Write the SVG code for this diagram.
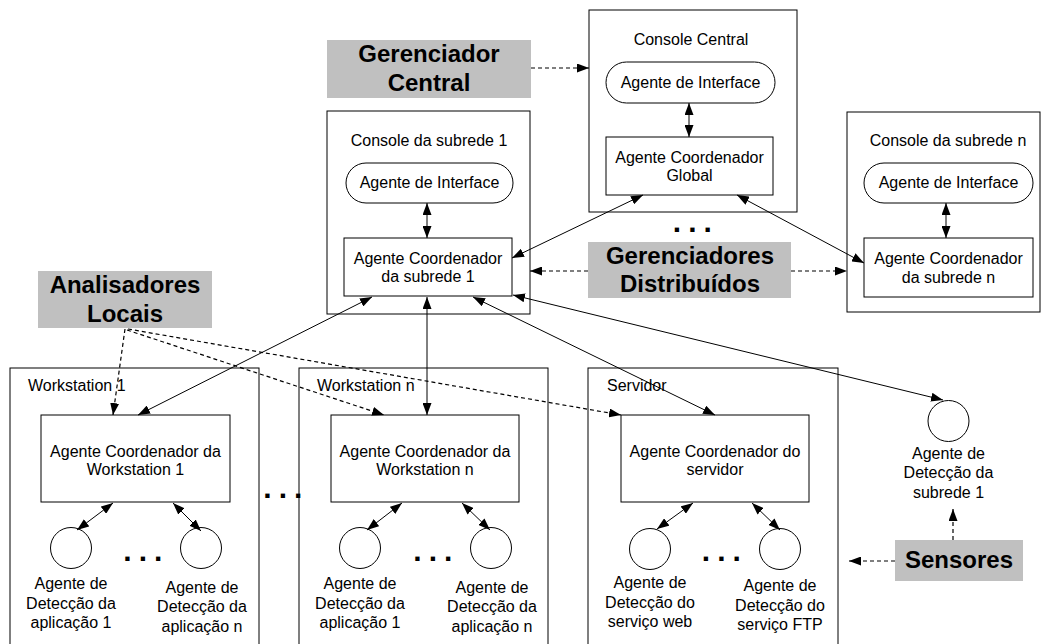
<svg xmlns="http://www.w3.org/2000/svg" width="1042" height="644" viewBox="0 0 1042 644">
<style>
.t{font-family:"Liberation Sans",Arial,sans-serif;font-size:16px;fill:#000}
.m{text-anchor:middle}
.b{font-family:"Liberation Sans",Arial,sans-serif;font-size:24px;font-weight:bold;fill:#000;text-anchor:middle}
.d{font-family:"Liberation Sans",Arial,sans-serif;font-size:30px;font-weight:bold;fill:#000;letter-spacing:7px}
.box{fill:#fff;stroke:#000;stroke-width:1}
.gray{fill:#c0c0c0;stroke:none}
.ln{stroke:#000;stroke-width:1;fill:none;marker-start:url(#ah);marker-end:url(#ah)}
.dl{stroke:#000;stroke-width:1.2;fill:none;stroke-dasharray:4 3;marker-end:url(#ah)}
</style>
<defs>
<marker id="ah" markerUnits="userSpaceOnUse" viewBox="0 0 12 9" refX="12" refY="4.5" markerWidth="12" markerHeight="9" orient="auto-start-reverse">
<path d="M0,0 L12,4.5 L0,9 z" fill="#000"/>
</marker>
</defs>
<rect width="1042" height="644" fill="#fff"/>

<g id="console-central">
<rect class="box" x="589" y="10" width="208" height="202"/>
<text class="t m" x="691" y="45">Console Central</text>
</g>
<g id="interface-central">
<rect class="box" x="606" y="62" width="169" height="41" rx="20.5"/>
<text class="t m" x="690.5" y="88">Agente de Interface</text>
</g>
<g id="coord-global">
<rect class="box" x="606" y="137" width="167" height="58"/>
<text class="t m" x="689.5" y="163">Agente Coordenador</text>
<text class="t m" x="689.5" y="181">Global</text>
</g>

<g id="console-subrede-1">
<rect class="box" x="327" y="111" width="203" height="203"/>
<text class="t m" x="429" y="146">Console da subrede 1</text>
</g>
<g id="interface-subrede-1">
<rect class="box" x="346" y="163" width="167" height="40" rx="20"/>
<text class="t m" x="429.5" y="188">Agente de Interface</text>
</g>
<g id="coord-subrede-1">
<rect class="box" x="344" y="238" width="168" height="58"/>
<text class="t m" x="428" y="264">Agente Coordenador</text>
<text class="t m" x="428" y="282">da subrede 1</text>
</g>

<g id="console-subrede-n">
<rect class="box" x="847" y="112" width="193" height="200"/>
<text class="t m" x="948" y="146">Console da subrede n</text>
</g>
<g id="interface-subrede-n">
<rect class="box" x="864" y="163" width="169" height="40" rx="20"/>
<text class="t m" x="948.5" y="188">Agente de Interface</text>
</g>
<g id="coord-subrede-n">
<rect class="box" x="864" y="238" width="169" height="59"/>
<text class="t m" x="948.5" y="264">Agente Coordenador</text>
<text class="t m" x="948.5" y="283">da subrede n</text>
</g>

<g id="gerenciador-central">
<rect class="gray" x="327" y="40" width="204" height="58"/>
<text class="b" x="429" y="62">Gerenciador</text>
<text class="b" x="429" y="91">Central</text>
</g>
<g id="gerenciadores-distribuidos">
<rect class="gray" x="588" y="242" width="203" height="56"/>
<text class="b" x="690" y="264">Gerenciadores</text>
<text class="b" x="690" y="292">Distribuídos</text>
</g>
<g id="analisadores-locais">
<rect class="gray" x="38" y="271" width="174" height="57"/>
<text class="b" x="125" y="293">Analisadores</text>
<text class="b" x="125" y="322">Locais</text>
</g>
<g id="sensores">
<rect class="gray" x="895" y="540" width="128" height="41"/>
<text class="b" x="959" y="568">Sensores</text>
</g>

<g id="workstation-1">
<rect class="box" x="10" y="368" width="249" height="300"/>
<text class="t" x="28" y="391">Workstation 1</text>
</g>
<g id="coord-ws1">
<rect class="box" x="41" y="415" width="189" height="87"/>
<text class="t m" x="135.5" y="457">Agente Coordenador da</text>
<text class="t m" x="135.5" y="475">Workstation 1</text>
</g>
<g id="det-ws1-1">
<circle class="box" cx="71" cy="548" r="20.5"/>
<text class="t m" x="71" y="589">Agente de</text>
<text class="t m" x="71" y="609">Detecção da</text>
<text class="t m" x="71" y="628">aplicação 1</text>
</g>
<g id="det-ws1-n">
<circle class="box" cx="201" cy="548" r="20.5"/>
<text class="t m" x="202" y="593">Agente de</text>
<text class="t m" x="202" y="612">Detecção da</text>
<text class="t m" x="202" y="632">aplicação n</text>
</g>

<g id="workstation-n">
<rect class="box" x="299" y="368" width="249" height="300"/>
<text class="t" x="317" y="391">Workstation n</text>
</g>
<g id="coord-wsn">
<rect class="box" x="331" y="415" width="188" height="87"/>
<text class="t m" x="425" y="457">Agente Coordenador da</text>
<text class="t m" x="425" y="475">Workstation n</text>
</g>
<g id="det-wsn-1">
<circle class="box" cx="360" cy="548" r="20.5"/>
<text class="t m" x="360" y="589">Agente de</text>
<text class="t m" x="360" y="609">Detecção da</text>
<text class="t m" x="360" y="628">aplicação 1</text>
</g>
<g id="det-wsn-n">
<circle class="box" cx="491" cy="548" r="20.5"/>
<text class="t m" x="492" y="593">Agente de</text>
<text class="t m" x="492" y="612">Detecção da</text>
<text class="t m" x="492" y="632">aplicação n</text>
</g>

<g id="servidor">
<rect class="box" x="588" y="368" width="250" height="300"/>
<text class="t" x="607" y="391">Servidor</text>
</g>
<g id="coord-servidor">
<rect class="box" x="621" y="415" width="188" height="87"/>
<text class="t m" x="715" y="457">Agente Coordenador do</text>
<text class="t m" x="715" y="475">servidor</text>
</g>
<g id="det-web">
<circle class="box" cx="650" cy="549" r="20.5"/>
<text class="t m" x="650" y="588">Agente de</text>
<text class="t m" x="650" y="608">Detecção do</text>
<text class="t m" x="650" y="627">serviço web</text>
</g>
<g id="det-ftp">
<circle class="box" cx="780" cy="549" r="20.5"/>
<text class="t m" x="780" y="591">Agente de</text>
<text class="t m" x="780" y="611">Detecção do</text>
<text class="t m" x="780" y="630">serviço FTP</text>
</g>

<g id="det-subrede-1">
<circle class="box" cx="948.5" cy="421" r="20.5"/>
<text class="t m" x="948.5" y="459">Agente de</text>
<text class="t m" x="948.5" y="478">Detecção da</text>
<text class="t m" x="948.5" y="498">subrede 1</text>
</g>

<g id="ellipses">
<text class="d" x="672.8" y="232">...</text>
<text class="d" x="263.3" y="498">...</text>
<text class="d" x="123.3" y="561">...</text>
<text class="d" x="413.3" y="561">...</text>
<text class="d" x="701.8" y="561">...</text>
</g>

<g id="connectors">
<line class="ln" x1="689" y1="103" x2="689" y2="137"/>
<line class="ln" x1="427" y1="203" x2="427" y2="238"/>
<line class="ln" x1="946" y1="203" x2="946" y2="238"/>
<line class="ln" x1="643" y1="195" x2="512" y2="258"/>
<line class="ln" x1="737" y1="195" x2="864" y2="263"/>
<line class="ln" x1="372" y1="297" x2="138" y2="415"/>
<line class="ln" x1="427" y1="297" x2="427" y2="415"/>
<line class="ln" x1="473" y1="297" x2="715" y2="415"/>
<line class="ln" x1="513" y1="295" x2="943" y2="400"/>
<line class="ln" x1="113" y1="503" x2="77" y2="530"/>
<line class="ln" x1="173" y1="503" x2="201" y2="531"/>
<line class="ln" x1="402" y1="503" x2="367" y2="530"/>
<line class="ln" x1="462" y1="503" x2="490" y2="530"/>
<line class="ln" x1="693" y1="503" x2="657" y2="529"/>
<line class="ln" x1="752" y1="503" x2="780" y2="530"/>
<line class="dl" x1="531" y1="68" x2="589" y2="68"/>
<line class="dl" x1="588" y1="271" x2="530" y2="271"/>
<line class="dl" x1="791" y1="271" x2="847" y2="271"/>
<line class="dl" x1="125" y1="329" x2="113" y2="415"/>
<line class="dl" x1="127" y1="330" x2="384" y2="415"/>
<line class="dl" x1="128" y1="329" x2="621" y2="415"/>
<line class="dl" x1="895" y1="561" x2="849" y2="561"/>
<line class="dl" x1="953" y1="540" x2="953" y2="509"/>
</g>
</svg>
